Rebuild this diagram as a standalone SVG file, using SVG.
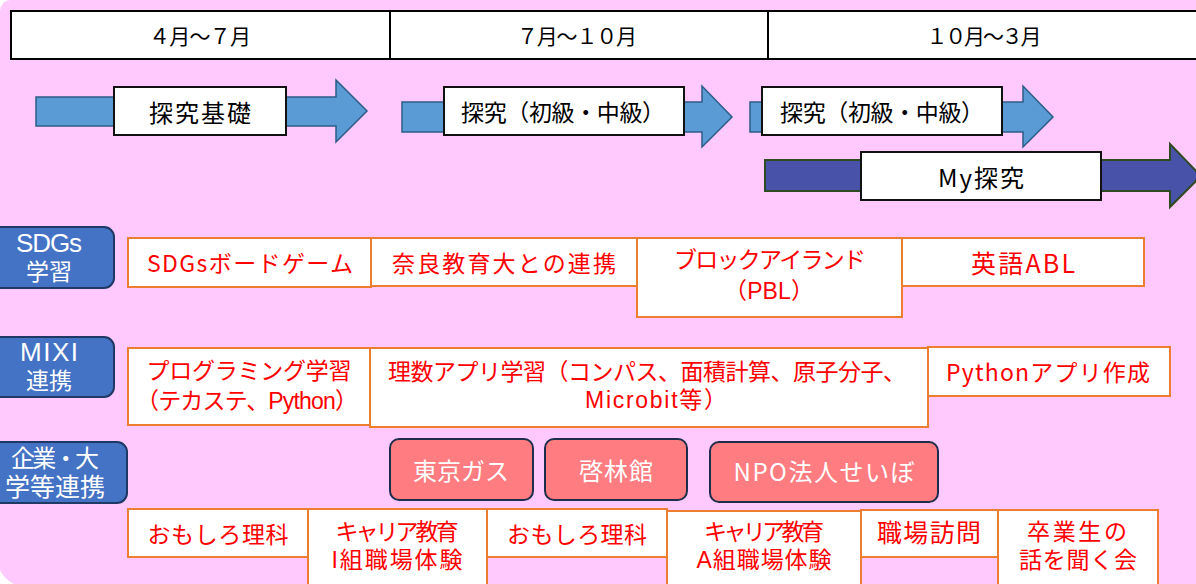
<svg xmlns="http://www.w3.org/2000/svg" width="1196" height="584" viewBox="0 0 1196 584">
<style>
text{font-family:"Noto Sans CJK JP","Noto Sans",sans-serif;text-anchor:middle;dominant-baseline:central}
.hdr{fill:#fff;stroke:#000;stroke-width:2}
.lbl{fill:#fff;stroke:#111;stroke-width:2}
.arrL{fill:#5B9BD5;stroke:#2C5C86;stroke-width:1.5}
.arrD{fill:#4752A8;stroke:#2F4A20;stroke-width:2}
.ob{fill:#fff;stroke:#ED7D31;stroke-width:2}
.bl{fill:#4472C4;stroke:#1F3864;stroke-width:2}
.pk{fill:#FF7C80;stroke:#1F2D4D;stroke-width:2}
.t20{font-size:21px;fill:#000}
.t24{font-size:24px;fill:#000}
.w{fill:#fff;font-size:24px}
.r{fill:#FF0000;font-size:23px}
text.two{font-family:"Liberation Sans","Noto Sans CJK JP",sans-serif}
</style>
<path d="M0,11 Q1,1 10,0 L1196,0 L1196,584 L14,584 Q4,579 0,570 Z" fill="#FFC9FE"/>
<g id="header">
<rect class="hdr" x="11" y="11" width="1192" height="48"/>
<line x1="390" y1="11" x2="390" y2="59" stroke="#000" stroke-width="2"/>
<line x1="768" y1="11" x2="768" y2="59" stroke="#000" stroke-width="2"/>
<text class="t20" x="200" y="35" textLength="102">４月～７月</text>
<text class="t20" x="577" y="35" textLength="120">７月～１０月</text>
<text class="t20" x="984" y="35" textLength="115">１０月～３月</text>
</g>
<g id="connectors">
<polygon class="arrL" points="36,97 336,97 336,80 367,111 336,142 336,126 36,126"/>
<polygon class="arrL" points="402,102 702,102 702,86 732,117 702,147 702,132 402,132"/>
<polygon class="arrL" points="750,102 1023,102 1023,86 1053,117 1023,147 1023,132 750,132"/>
<polygon class="arrD" points="765,160 1170,160 1170,144 1201,176 1170,207 1170,191 765,191"/>
</g>
<g id="n-kiso"><rect class="lbl" x="114" y="87" width="172" height="48"/><text class="t24" x="200" y="111" textLength="102">探究基礎</text></g>
<g id="n-shokyu1"><rect class="lbl" x="444" y="87" width="240" height="48"/><text class="t24" x="563" y="111" style="font-size:23px" textLength="204">探究（初級・中級）</text></g>
<g id="n-shokyu2"><rect class="lbl" x="762" y="87" width="240" height="48"/><text class="t24" x="882" y="111" style="font-size:23px" textLength="204">探究（初級・中級）</text></g>
<g id="n-my"><rect class="lbl" x="861" y="152" width="240" height="48"/><text class="t24" x="981" y="176" textLength="86">My探究</text></g>

<g id="l-sdgs"><rect class="bl" x="-20" y="227" width="134" height="61" rx="10"/><text class="w two"><tspan x="49" y="243" style="font-size:26px" textLength="66">SDGs</tspan><tspan x="49" y="272" style="font-size:23px" textLength="46">学習</tspan></text></g>
<g id="l-mixi"><rect class="bl" x="-20" y="337" width="134" height="60" rx="10"/><text class="w two"><tspan x="49" y="352" style="font-size:26px" textLength="58">MIXI</tspan><tspan x="49" y="381" style="font-size:23px" textLength="46">連携</tspan></text></g>
<g id="l-kigyo"><rect class="bl" x="-20" y="442" width="147" height="61" rx="10"/><text class="w two"><tspan x="55" y="458" textLength="88">企業・大</tspan><tspan x="55" y="487" style="font-size:25px" textLength="100">学等連携</tspan></text></g>

<g id="s1"><rect class="ob" x="128" y="238" width="243" height="49"/><text class="r" x="250" y="262" textLength="206">SDGsボードゲーム</text></g>
<g id="s2"><rect class="ob" x="371" y="238" width="266" height="48"/><text class="r" x="504" y="262" textLength="224">奈良教育大との連携</text></g>
<g id="s3"><rect class="ob" x="637" y="238" width="265" height="79"/><text class="r two"><tspan x="770" y="260" textLength="192">ブロックアイランド</tspan><tspan x="769" y="291" textLength="90">（PBL）</tspan></text></g>
<g id="s4"><rect class="ob" x="902" y="238" width="242" height="48"/><text class="r" x="1023" y="262" style="font-size:25px" textLength="104">英語ABL</text></g>

<g id="m1"><rect class="ob" x="128" y="348" width="242" height="77"/><text class="r two"><tspan x="249" y="371" textLength="205">プログラミング学習</tspan><tspan x="247" y="401" textLength="222">（テカステ、Python）</tspan></text></g>
<g id="m2"><rect class="ob" x="370" y="348" width="558" height="79"/><text class="r two"><tspan x="647" y="372" textLength="518">理数アプリ学習（コンパス、面積計算、原子分子、</tspan><tspan x="656" y="400" textLength="142">Microbit等）</tspan></text></g>
<g id="m3"><rect class="ob" x="928" y="347" width="242" height="49"/><text class="r" x="1048" y="371" textLength="204">Pythonアプリ作成</text></g>

<g id="k1"><rect class="pk" x="390" y="439" width="143" height="61" rx="9"/><text class="w" x="461" y="469" textLength="96">東京ガス</text></g>
<g id="k2"><rect class="pk" x="545" y="439" width="142" height="61" rx="9"/><text class="w" x="616" y="469" textLength="74">啓林館</text></g>
<g id="k3"><rect class="pk" x="710" y="442" width="228" height="60" rx="9"/><text class="w" x="824" y="470" textLength="181">NPO法人せいぼ</text></g>

<g id="b1"><rect class="ob" x="128" y="509" width="180" height="48"/><text class="r" x="218" y="533" textLength="141">おもしろ理科</text></g>
<g id="b2"><rect class="ob" x="308" y="509" width="179" height="76"/><text class="r two"><tspan x="397" y="532" textLength="123">キャリア教育</tspan><tspan x="397" y="560" textLength="131">I組職場体験</tspan></text></g>
<g id="b3"><rect class="ob" x="487" y="509" width="180" height="48"/><text class="r" x="577" y="533" textLength="140">おもしろ理科</text></g>
<g id="b4"><rect class="ob" x="667" y="511" width="194" height="74"/><text class="r two"><tspan x="764" y="532" textLength="120">キャリア教育</tspan><tspan x="764" y="560" textLength="135">A組職場体験</tspan></text></g>
<g id="b5"><rect class="ob" x="861" y="510" width="137" height="47"/><text class="r" x="929" y="531" style="font-size:25px" textLength="104">職場訪問</text></g>
<g id="b6"><rect class="ob" x="998" y="510" width="160" height="76"/><text class="r two"><tspan x="1077" y="532" textLength="100">卒業生の</tspan><tspan x="1078" y="560" textLength="118">話を聞く会</tspan></text></g>
</svg>
